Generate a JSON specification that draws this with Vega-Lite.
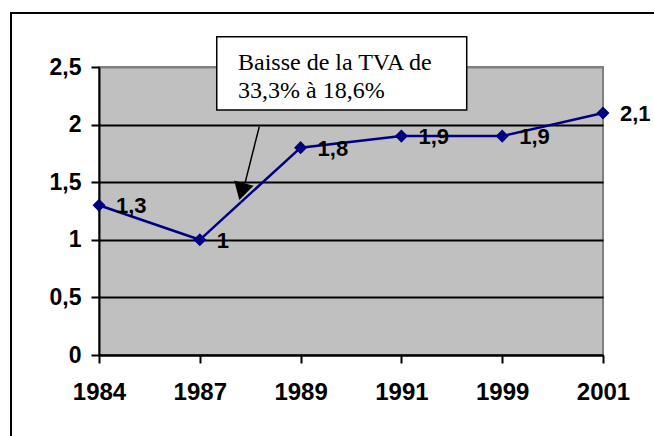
{
  "$schema": "https://vega.github.io/schema/vega-lite/v6.json",
  "width": 504,
  "height": 288,
  "autosize": {"type": "none"},
  "padding": {"left": 99, "top": 67, "right": 51, "bottom": 81},
  "background": "white",
  "config": {
    "view": {"fill": "#c0c0c0", "stroke": "#808080", "strokeWidth": 2},
    "font": "Liberation Sans"
  },
  "datasets": {
    "series": [
      {"yr": "1984", "i": 0, "v": 1.3, "lab": "1,3"},
      {"yr": "1987", "i": 1, "v": 1.0, "lab": "1"},
      {"yr": "1989", "i": 2, "v": 1.8, "lab": "1,8"},
      {"yr": "1991", "i": 3, "v": 1.9, "lab": "1,9"},
      {"yr": "1999", "i": 4, "v": 1.9, "lab": "1,9"},
      {"yr": "2001", "i": 5, "v": 2.1, "lab": "2,1"}
    ],
    "frame": [{"x1": -0.873, "x2": 5.6, "y1": -0.74, "y2": 2.969}],
    "box": [{"x1": 1.168, "x2": 3.648, "y1": 2.127, "y2": 2.763}],
    "note": [
      {"tx": 1.379, "ty": 2.474, "t": "Baisse de la TVA de"},
      {"tx": 1.379, "ty": 2.231, "t": "33,3% à 18,6%"}
    ],
    "arrow": [{"ax": 1.59, "ay": 1.982, "bx": 1.448, "by": 1.49, "hx": 1.392, "hy": 1.345}]
  },
  "layer": [
    {
      "data": {"name": "series"},
      "mark": {"type": "line", "color": "#000080", "strokeWidth": 2.5},
      "encoding": {
        "x": {
          "field": "i", "type": "quantitative", "title": null,
          "scale": {"domain": [0, 5], "nice": false, "zero": false},
          "axis": {
            "title": null,
            "values": [0, 1, 2, 3, 4, 5],
            "labelExpr": "['1984','1987','1989','1991','1999','2001'][datum.value]",
            "grid": false,
            "domainColor": "black", "domainWidth": 2,
            "tickColor": "black", "tickWidth": 2, "tickSize": 8,
            "labelFont": "Liberation Sans", "labelFontSize": 24, "labelFontWeight": "bold",
            "labelColor": "black", "labelPadding": 17, "labelFlush": false
          }
        },
        "y": {
          "field": "v", "type": "quantitative", "title": null,
          "scale": {"domain": [0, 2.5], "nice": false, "zero": true},
          "axis": {
            "title": null,
            "values": [0, 0.5, 1, 1.5, 2, 2.5],
            "labelExpr": "replace(format(datum.value, '~g'), '.', ',')",
            "grid": true,
            "gridColor": {"condition": {"test": "datum.value == 2.5", "value": "#808080"}, "value": "black"},
            "gridWidth": 2,
            "domainColor": "black", "domainWidth": 2,
            "tickColor": "black", "tickWidth": 2, "tickSize": 8,
            "labelFont": "Liberation Sans", "labelFontSize": 23, "labelFontWeight": "bold",
            "labelColor": "black", "labelPadding": 10, "labelFlush": false
          }
        }
      }
    },
    {
      "data": {"name": "frame"},
      "mark": {"type": "rect", "fill": null, "stroke": "black", "strokeWidth": 2, "clip": false},
      "encoding": {
        "x": {"field": "x1", "type": "quantitative", "title": null},
        "x2": {"field": "x2"},
        "y": {"field": "y1", "type": "quantitative", "title": null},
        "y2": {"field": "y2"}
      }
    },
    {
      "data": {"name": "series"},
      "mark": {"type": "point", "shape": "diamond", "filled": true, "size": 170, "color": "#000080", "opacity": 1},
      "encoding": {
        "x": {"field": "i", "type": "quantitative", "title": null},
        "y": {"field": "v", "type": "quantitative", "title": null}
      }
    },
    {
      "data": {"name": "series"},
      "mark": {"type": "text", "align": "left", "baseline": "middle", "dx": 17, "dy": 1, "fontSize": 22, "fontWeight": "bold", "font": "Liberation Sans", "color": "black", "clip": false},
      "encoding": {
        "x": {"field": "i", "type": "quantitative", "title": null},
        "y": {"field": "v", "type": "quantitative", "title": null},
        "text": {"field": "lab"}
      }
    },
    {
      "data": {"name": "box"},
      "mark": {"type": "rect", "fill": "white", "stroke": "black", "strokeWidth": 1.5, "clip": false},
      "encoding": {
        "x": {"field": "x1", "type": "quantitative", "title": null},
        "x2": {"field": "x2"},
        "y": {"field": "y1", "type": "quantitative", "title": null},
        "y2": {"field": "y2"}
      }
    },
    {
      "data": {"name": "note"},
      "mark": {"type": "text", "align": "left", "baseline": "alphabetic", "font": "Liberation Serif", "fontSize": 24, "color": "black", "clip": false},
      "encoding": {
        "x": {"field": "tx", "type": "quantitative", "title": null},
        "y": {"field": "ty", "type": "quantitative", "title": null},
        "text": {"field": "t"}
      }
    },
    {
      "data": {"name": "arrow"},
      "mark": {"type": "rule", "color": "black", "strokeWidth": 1.5, "clip": false},
      "encoding": {
        "x": {"field": "ax", "type": "quantitative", "title": null},
        "y": {"field": "ay", "type": "quantitative", "title": null},
        "x2": {"field": "bx"},
        "y2": {"field": "by"}
      }
    },
    {
      "data": {"name": "arrow"},
      "mark": {"type": "point", "shape": "M0,0 L-1,-1.75 L1,-1.75 Z", "size": 400, "filled": true, "color": "black", "opacity": 1, "angle": 15, "clip": false},
      "encoding": {
        "x": {"field": "hx", "type": "quantitative", "title": null},
        "y": {"field": "hy", "type": "quantitative", "title": null}
      }
    }
  ]
}
